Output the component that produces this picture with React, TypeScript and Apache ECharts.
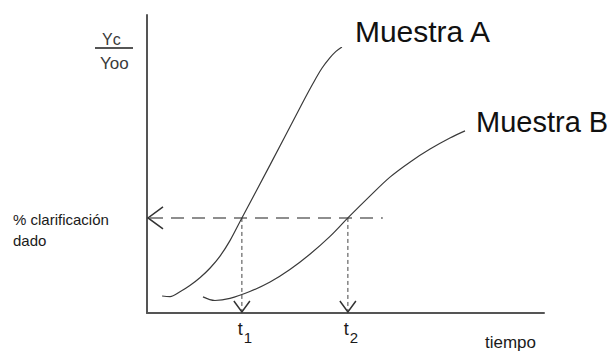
import React, { useEffect, useRef } from "react";
import * as echarts from "echarts";

// Curva de clarificación de la muestra A (tiempo, Vc/V∞ en %)
const muestraATiempo = [3.8, 5.8, 8.3, 10.8, 13.4, 15.9, 18.4, 20.9, 23.9, 31.0, 38.5, 41.8, 44.1, 46.1, 47.6, 49.1];
const muestraAValor = [5.7, 5.5, 7.1, 9.2, 11.9, 15.1, 19.1, 24.3, 31.9, 49.7, 68.8, 77.0, 82.2, 85.7, 87.8, 89.3];

// Curva de clarificación de la muestra B
const muestraBTiempo = [14.1, 17.1, 20.9, 25.9, 31.0, 36.0, 41.1, 46.1, 50.6, 56.2, 61.2, 66.3, 71.3, 76.3, 80.1];
const muestraBValor = [5.4, 4.2, 4.9, 7.2, 10.4, 14.6, 19.8, 25.7, 31.9, 39.3, 45.6, 50.7, 55.0, 58.7, 61.1];

// Nivel de clarificación dado y tiempos en que cada muestra lo alcanza
const clarificacionDada = 31.9;
const tiemposLectura = [23.9, 50.6];
const subindicesTiempo = ["1", "2"];
const finGuiaHorizontal = 59.4;

const FONT = "'Liberation Sans', Arial, Helvetica, sans-serif";
const INK = "#1a1a1a";

const zip = (xs: number[], ys: number[]) => xs.map((x, i) => [x, ys[i]]);

export default function App() {
  const ref = useRef<HTMLDivElement>(null);

  useEffect(() => {
    if (!ref.current) return;
    const chart = echarts.init(ref.current, null, { renderer: "svg" });

    const option: any = {
      animation: false,
      backgroundColor: "#ffffff",
      grid: { left: 147, right: 68, top: 15, bottom: 41 },
      xAxis: {
        type: "value",
        min: 0,
        max: 100,
        splitLine: { show: false },
        axisTick: { show: false },
        axisLine: { show: true, lineStyle: { color: "#555555", width: 2 } },
        axisLabel: {
          show: true,
          customValues: tiemposLectura,
          margin: 7,
          formatter: (v: number) => {
            const i = tiemposLectura.indexOf(v);
            return `{t|t}{s|${subindicesTiempo[i] ?? ""}}`;
          },
          rich: {
            t: { fontSize: 18, lineHeight: 18, verticalAlign: "top", color: INK, fontFamily: FONT, padding: [0, 0, 0, 6] },
            s: { fontSize: 15, lineHeight: 15, verticalAlign: "top", color: INK, fontFamily: FONT, padding: [10, 0, 0, 1] },
          },
        },
      },
      yAxis: {
        type: "value",
        min: 0,
        max: 100,
        splitLine: { show: false },
        axisTick: { show: false },
        axisLabel: { show: false },
        axisLine: { show: true, lineStyle: { color: "#555555", width: 2 } },
      },
      graphic: [
        { type: "text", left: 102, top: 31, style: { text: "Yc", font: `16px ${FONT}`, fill: "#3a3a3a" } },
        { type: "line", shape: { x1: 95, y1: 48, x2: 133, y2: 48 }, style: { stroke: "#555555", lineWidth: 2 } },
        { type: "text", left: 100, top: 55, style: { text: "Yoo", font: `17px ${FONT}`, fill: "#3a3a3a" } },
        {
          type: "text",
          left: 13,
          top: 209,
          style: { text: "% clarificación\ndado", font: `15px ${FONT}`, lineHeight: 21, fill: INK },
        },
        { type: "text", left: 485, top: 334, style: { text: "tiempo", font: `17px ${FONT}`, fill: INK } },
      ],
      series: [
        {
          name: "Muestra A",
          type: "line",
          data: zip(muestraATiempo, muestraAValor),
          smooth: 0.35,
          showSymbol: false,
          lineStyle: { color: "#3a3a3a", width: 1.2 },
          endLabel: {
            show: true,
            formatter: "{a}",
            offset: [5, -15],
            fontSize: 30,
            fontFamily: FONT,
            color: "#111111",
          },
        },
        {
          name: "Muestra B",
          type: "line",
          data: zip(muestraBTiempo, muestraBValor),
          smooth: 0.35,
          showSymbol: false,
          lineStyle: { color: "#3a3a3a", width: 1.2 },
          endLabel: {
            show: true,
            formatter: "{a}",
            offset: [3, -9],
            fontSize: 29,
            fontFamily: FONT,
            color: "#111111",
          },
        },
        {
          // Línea horizontal discontinua con flecha hacia el eje de ordenadas
          type: "custom",
          silent: true,
          data: [[0, finGuiaHorizontal, clarificacionDada]],
          renderItem: (_p: any, api: any) => {
            const a = api.coord([api.value(0), api.value(2)]);
            const b = api.coord([api.value(1), api.value(2)]);
            const tip = [a[0] + 1, a[1]];
            return {
              type: "group",
              children: [
                {
                  type: "line",
                  shape: { x1: tip[0] + 2, y1: a[1], x2: b[0], y2: b[1] },
                  style: { stroke: "#6a6a6a", lineWidth: 1.5, lineDash: [13, 8] },
                },
                {
                  type: "polyline",
                  shape: { points: [[tip[0] + 15, tip[1] - 11], tip, [tip[0] + 15, tip[1] + 11]] },
                  style: { stroke: "#333333", fill: "none", lineWidth: 1.5 },
                },
              ],
            };
          },
        },
        {
          // Líneas verticales discontinuas hasta t1 y t2
          type: "custom",
          silent: true,
          data: tiemposLectura.map((t) => [t, clarificacionDada]),
          renderItem: (_p: any, api: any) => {
            const top = api.coord([api.value(0), api.value(1)]);
            const bot = api.coord([api.value(0), 0]);
            const tip = [bot[0], bot[1] - 1];
            return {
              type: "group",
              children: [
                {
                  type: "line",
                  shape: { x1: top[0], y1: top[1], x2: tip[0], y2: tip[1] },
                  style: { stroke: "#444444", lineWidth: 1, lineDash: [4, 3] },
                },
                {
                  type: "polyline",
                  shape: { points: [[tip[0] - 8, tip[1] - 11], tip, [tip[0] + 8, tip[1] - 11]] },
                  style: { stroke: "#333333", fill: "none", lineWidth: 1.5 },
                },
              ],
            };
          },
        },
      ],
    };

    chart.setOption(option);
    return () => chart.dispose();
  }, []);

  return (
    <div
      ref={ref}
      style={{ position: "fixed", left: 0, top: 0, width: 612, height: 354, background: "#ffffff" }}
    />
  );
}
